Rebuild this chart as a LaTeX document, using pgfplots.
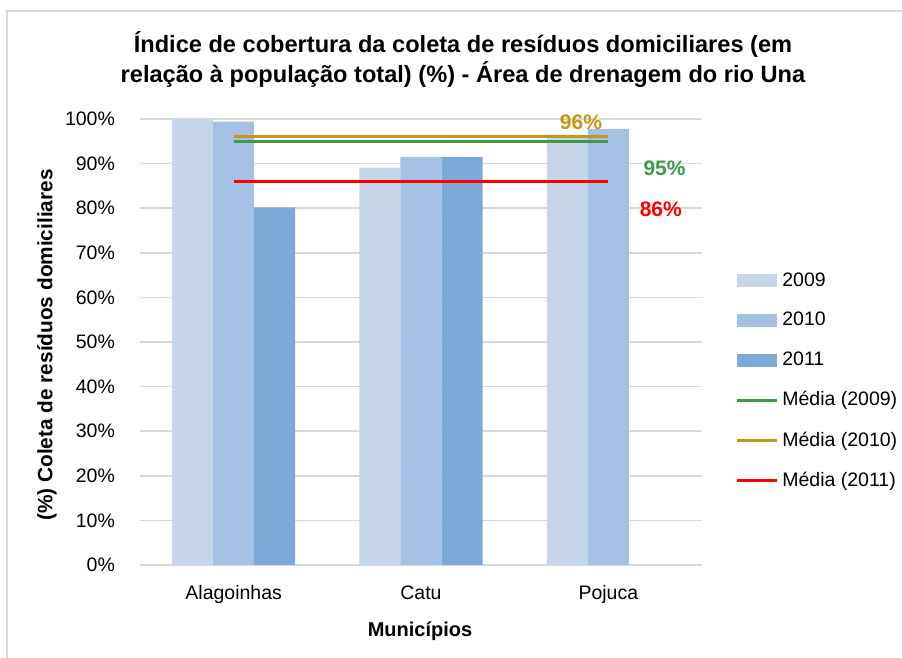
\documentclass[border=0pt]{standalone}
\usepackage{fontspec}
\setmainfont{Liberation Sans}
\usepackage{pgfplots}
\pgfplotsset{compat=1.18}
\definecolor{c09}{RGB}{197,213,234}
\definecolor{c10}{RGB}{164,192,228}
\definecolor{c11}{RGB}{124,169,216}
\definecolor{lgreen}{RGB}{62,154,74}
\definecolor{lgold}{RGB}{196,150,18}
\definecolor{gridc}{RGB}{217,217,217}
\begin{document}
\begin{tikzpicture}
\path[use as bounding box] (0,0) rectangle (451pt,329pt);
\draw[gridc, line width=0.6pt] (3.5pt,0) -- (3.5pt,323.5pt) -- (451pt,323.5pt);
\begin{axis}[
  at={(70pt,46.5pt)}, anchor=south west,
  scale only axis, width=281pt, height=223pt,
  xmin=-0.5, xmax=2.5, ymin=0, ymax=100,
  clip mode=individual,
  ybar, bar width=0.219,
  xtick={0,1,2}, xticklabels={Alagoinhas,Catu,Pojuca},
  ytick={0,10,...,100},
  yticklabel={\pgfmathprintnumber{\tick}\%},
  /pgf/number format/assume math mode=true,
  axis line style={draw=none},
  major tick length=0pt,
  ymajorgrids, grid style={gridc, line width=0.75pt},
  tick label style={font=\fontsize{9.75}{12}\selectfont},
  xticklabel style={yshift=-6.5pt, text height=7.2pt, text depth=2pt},
  yticklabel style={xshift=-9pt},
  legend style={at={(1.0587,0.4126)}, anchor=west, draw=none, fill=none,
    inner sep=0pt, row sep=11.5pt, font=\fontsize{9.75}{12}\selectfont,
    nodes={inner sep=0pt},
    /tikz/every odd column/.append style={column sep=2pt}},
  legend cell align=left,
]
\addplot[fill=c09, draw=none, bar shift=-0.219,
  legend image code/.code={\fill[c09] (0pt,-3.25pt) rectangle (20pt,3.25pt);}]
  coordinates {(0,100) (1,89.1) (2,96)};
\addplot[fill=c10, draw=none, bar shift=0,
  legend image code/.code={\fill[c10] (0pt,-3.25pt) rectangle (20pt,3.25pt);}]
  coordinates {(0,99.4) (1,91.5) (2,97.8)};
\addplot[fill=c11, draw=none, bar shift=0.219,
  legend image code/.code={\fill[c11] (0pt,-3.25pt) rectangle (20pt,3.25pt);}]
  coordinates {(0,80.2) (1,91.5)};
\addplot[sharp plot, lgreen, line width=1.5pt, no markers,
  legend image code/.code={\draw[lgreen, line width=1.5pt] (0pt,0pt) -- (20pt,0pt);}]
  coordinates {(0,94.9) (1,94.9) (2,94.9)};
\addplot[sharp plot, lgold, line width=1.5pt, no markers,
  legend image code/.code={\draw[lgold, line width=1.5pt] (0pt,0pt) -- (20pt,0pt);}]
  coordinates {(0,96.0) (1,96.0) (2,96.0)};
\addplot[sharp plot, red, line width=1.5pt, no markers,
  legend image code/.code={\draw[red, line width=1.5pt] (0pt,0pt) -- (20pt,0pt);}]
  coordinates {(0,86.0) (1,86.0) (2,86.0)};
\legend{2009,2010,2011,Média (2009),Média (2010),Média (2011)}
\node[text=lgold, font=\bfseries\fontsize{10.5}{12}\selectfont] at (axis cs:1.854,99.3) {96\%};
\node[text=lgreen, font=\bfseries\fontsize{10.5}{12}\selectfont] at (axis cs:2.30,88.9) {95\%};
\node[text=red, font=\bfseries\fontsize{10.5}{12}\selectfont] at (axis cs:2.28,79.8) {86\%};
\end{axis}
\node[anchor=base, align=center, font=\bfseries\fontsize{11.8}{15}\selectfont] at (231.5pt,287.5pt)
  {Índice de cobertura da coleta de resíduos domiciliares (em\\relação à população total) (\%) - Área de drenagem do rio Una};
\node[rotate=90, font=\bfseries\fontsize{10.4}{12}\selectfont] at (23.5pt,156.5pt) {(\%) Coleta de resíduos domiciliares};
\node[anchor=base, font=\bfseries\fontsize{10}{12}\selectfont] at (210pt,10.5pt) {Municípios};
\end{tikzpicture}
\end{document}
